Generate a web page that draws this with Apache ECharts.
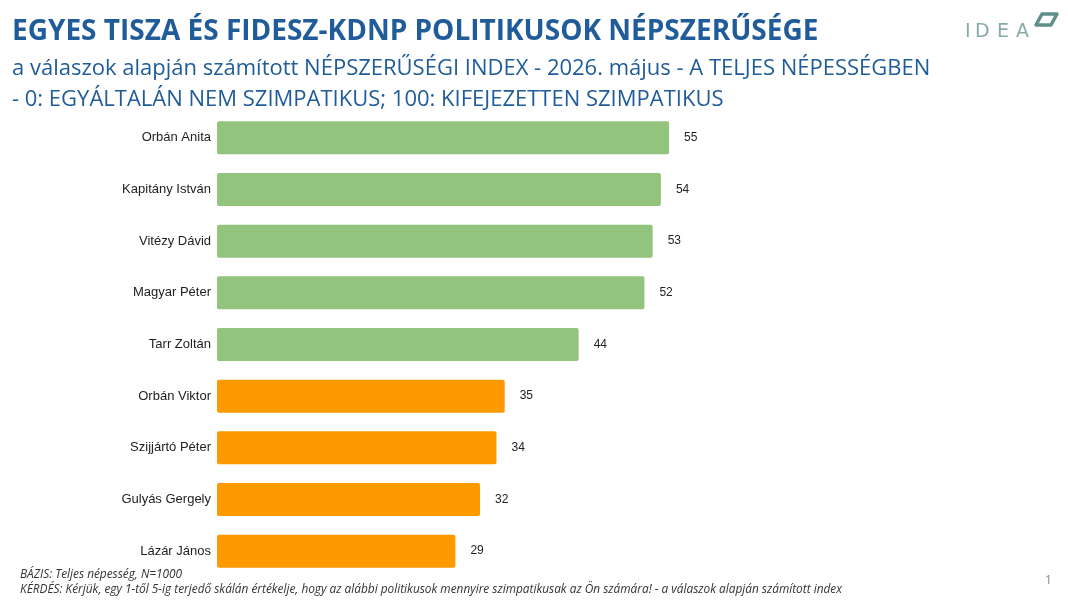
<!DOCTYPE html>
<html><head><meta charset="utf-8">
<script src="https://cdn.jsdelivr.net/npm/echarts@6/dist/echarts.min.js"></script>
<style>html,body{margin:0;padding:0;background:#fff}#c{width:1068px;height:601px}</style>
</head><body><div id="c"></div>
<script>
const categories = ['Orbán Anita','Kapitány István','Vitézy Dávid','Magyar Péter','Tarr Zoltán','Orbán Viktor','Szijjártó Péter','Gulyás Gergely','Lázár János'];
const values = [55,54,53,52,44,35,34,32,29];
const groups = ['tisza','tisza','tisza','tisza','tisza','fidesz','fidesz','fidesz','fidesz'];
const groupColors = {tisza:'#93C47D', fidesz:'#FF9900'};
const logoLetters = ['I','D','E','A'];

const chart = echarts.init(document.getElementById('c'));
const blue = '#1F5C99';
const logoX = [965, 975, 997, 1016];
const logo = logoLetters.map((ch,i)=>({type:'text', left:logoX[i], top:23, style:{text:ch, font:'19px "DejaVu Sans"', fill:'#88ABA8'}}));
chart.setOption({
  animation:false,
  grid:{left:217, right:29, top:112, bottom:24, containLabel:false},
  xAxis:{type:'value', min:0, max:100, show:false},
  yAxis:{type:'category', data:categories, inverse:true,
    axisLine:{show:false}, axisTick:{show:false},
    axisLabel:{fontFamily:'Liberation Sans, Arial', fontSize:13, color:'#222', margin:6}},
  series:[{type:'bar', barWidth:33,
    data: values.map((v,i)=>({value:v, itemStyle:{color:groupColors[groups[i]]}})),
    itemStyle:{borderRadius:2},
    label:{show:true, position:'right', distance:15, fontFamily:'Liberation Sans, Arial', fontSize:12, color:'#222'}
  }],
  graphic:[
    {type:'text', left:12, top:18, style:{text:'EGYES TISZA ÉS FIDESZ-KDNP POLITIKUSOK NÉPSZERŰSÉGE', font:'bold 28px "Open Sans"', fill:blue}},
    {type:'text', left:12, top:58, style:{text:'a válaszok alapján számított NÉPSZERŰSÉGI INDEX - 2026. május - A TELJES NÉPESSÉGBEN', font:'22px "Open Sans"', fill:blue}},
    {type:'text', left:12, top:89, style:{text:'- 0: EGYÁLTALÁN NEM SZIMPATIKUS; 100: KIFEJEZETTEN SZIMPATIKUS', font:'22px "Open Sans"', fill:blue}},
    {type:'text', left:20, top:569, style:{text:'BÁZIS: Teljes népesség, N=1000', font:'italic 11.85px "Open Sans"', fill:'#333'}},
    {type:'text', left:20, top:584, style:{text:'KÉRDÉS: Kérjük, egy 1-től 5-ig terjedő skálán értékelje, hogy az alábbi politikusok mennyire szimpatikusak az Ön számára! - a válaszok alapján számított index', font:'italic 11.85px "Open Sans"', fill:'#333'}},
    {type:'text', left:1045, top:575, style:{text:'1', font:'12px "Open Sans"', fill:'#888'}},
    ...logo,
    {type:'polygon', shape:{points:[[1042,14],[1057,14],[1051,25],[1036,25]]}, style:{fill:'#fff', stroke:'#5F8F8B', lineWidth:3.5, lineJoin:'round'}}
  ]
});
</script></body></html>
